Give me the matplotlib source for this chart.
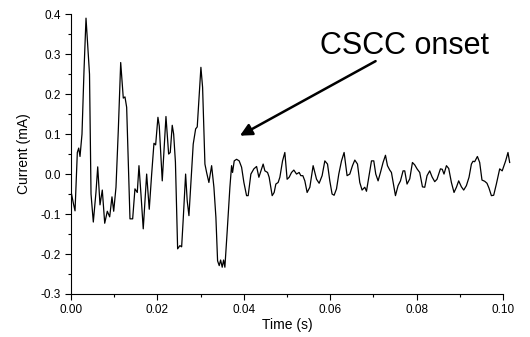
import matplotlib
matplotlib.use("Agg")
from matplotlib import pyplot as plt
from matplotlib.ticker import MultipleLocator, FormatStrFormatter

plt.rcParams['font.family'] = ['Liberation Sans', 'DejaVu Sans']
plt.rcParams['axes.unicode_minus'] = False

# current trace
time_s = [0.00012, 0.00058, 0.00093, 0.00146, 0.00178, 0.00208, 0.00254, 0.00301, 0.00347, 0.00382,
          0.00428, 0.00463, 0.00516, 0.00578, 0.00618, 0.00671, 0.00724, 0.00780, 0.00840, 0.00895,
          0.00948, 0.00988, 0.01041, 0.01094, 0.01150, 0.01210, 0.01249, 0.01288, 0.01365, 0.01427,
          0.01480, 0.01534, 0.01573, 0.01619, 0.01672, 0.01751, 0.01811, 0.01867, 0.01920, 0.01959,
          0.02012, 0.02043, 0.02112, 0.02198, 0.02260, 0.02297, 0.02343, 0.02376, 0.02417, 0.02468,
          0.02521, 0.02561, 0.02598, 0.02653, 0.02690, 0.02730, 0.02829, 0.02885, 0.02922, 0.02968,
          0.03007, 0.03046, 0.03100, 0.03139, 0.03192, 0.03255, 0.03308, 0.03354, 0.03393, 0.03431,
          0.03463, 0.03500, 0.03532, 0.03562, 0.03616, 0.03678, 0.03717, 0.03740, 0.03778, 0.03833,
          0.03893, 0.03949, 0.04002, 0.04064, 0.04101, 0.04164, 0.04233, 0.04296, 0.04349, 0.04411,
          0.04448, 0.04488, 0.04550, 0.04587, 0.04657, 0.04703, 0.04742, 0.04795, 0.04835, 0.04897,
          0.04950, 0.05003, 0.05050, 0.05105, 0.05158, 0.05221, 0.05281, 0.05320, 0.05367, 0.05413,
          0.05466, 0.05529, 0.05605, 0.05684, 0.05744, 0.05813, 0.05876, 0.05938, 0.05991, 0.06044,
          0.06091, 0.06146, 0.06199, 0.06262, 0.06322, 0.06391, 0.06454, 0.06516, 0.06570, 0.06632,
          0.06685, 0.06738, 0.06801, 0.06840, 0.06900, 0.06956, 0.07009, 0.07055, 0.07109, 0.07164,
          0.07224, 0.07280, 0.07326, 0.07379, 0.07418, 0.07472, 0.07511, 0.07571, 0.07627, 0.07687,
          0.07726, 0.07779, 0.07842, 0.07904, 0.07957, 0.08011, 0.08073, 0.08136, 0.08189, 0.08242,
          0.08304, 0.08358, 0.08420, 0.08473, 0.08552, 0.08594, 0.08635, 0.08691, 0.08744, 0.08806,
          0.08867, 0.08922, 0.08975, 0.09038, 0.09091, 0.09153, 0.09214, 0.09269, 0.09306, 0.09345,
          0.09408, 0.09461, 0.09514, 0.09577, 0.09630, 0.09676, 0.09732, 0.09785, 0.09847, 0.09924,
          0.09982, 0.10062, 0.10116, 0.10155]
current_mA = [-0.050, -0.075, -0.092, 0.054, 0.065, 0.044, 0.100, 0.260, 0.390, 0.330,
              0.250, -0.050, -0.120, -0.045, 0.018, -0.077, -0.040, -0.123, -0.093, -0.107,
              -0.057, -0.093, -0.033, 0.108, 0.279, 0.190, 0.193, 0.167, -0.112, -0.112,
              -0.037, -0.046, 0.021, -0.050, -0.137, 0.000, -0.088, 0.000, 0.077, 0.073,
              0.142, 0.120, -0.017, 0.144, 0.050, 0.054, 0.122, 0.100, 0.030, -0.187,
              -0.179, -0.182, -0.112, 0.000, -0.067, -0.104, 0.075, 0.113, 0.118, 0.200,
              0.267, 0.217, 0.025, 0.004, -0.021, 0.021, -0.033, -0.108, -0.217, -0.229,
              -0.215, -0.233, -0.215, -0.233, -0.142, -0.033, 0.021, 0.004, 0.033, 0.037,
              0.033, 0.017, -0.021, -0.054, -0.054, 0.000, 0.013, 0.019, -0.008, 0.013,
              0.025, 0.008, 0.004, -0.008, -0.054, -0.046, -0.025, -0.021, -0.008, 0.033,
              0.054, -0.013, -0.008, 0.004, 0.010, 0.000, 0.004, -0.004, -0.004, -0.017,
              -0.046, -0.033, 0.021, -0.013, -0.023, -0.004, 0.033, 0.025, -0.017, -0.050,
              -0.053, -0.037, 0.000, 0.033, 0.054, -0.004, 0.000, 0.021, 0.035, 0.025,
              -0.021, -0.040, -0.033, -0.043, -0.004, 0.033, 0.033, 0.000, -0.017, 0.004,
              0.029, 0.047, 0.021, 0.010, 0.004, -0.029, -0.054, -0.029, -0.017, 0.008,
              0.008, -0.025, -0.012, 0.029, 0.023, 0.013, 0.004, -0.032, -0.033, -0.004,
              0.008, -0.007, -0.019, -0.013, 0.013, 0.012, 0.000, 0.021, 0.014, -0.021,
              -0.046, -0.033, -0.017, -0.032, -0.040, -0.029, -0.008, 0.025, 0.032, 0.031,
              0.044, 0.029, -0.015, -0.018, -0.023, -0.035, -0.054, -0.053, -0.025, 0.013,
              0.008, 0.033, 0.054, 0.029]

fig = plt.figure(figsize=(5.3, 3.37), dpi=100)
ax = fig.add_axes([0.134, 0.1276, 0.815, 0.8304])

ax.plot(time_s, current_mA, color='black', linewidth=0.9, clip_on=False)

ax.set_xlim(0, 0.1)
ax.set_ylim(-0.3, 0.4)
ax.xaxis.set_major_locator(MultipleLocator(0.02))
ax.xaxis.set_minor_locator(MultipleLocator(0.01))
ax.yaxis.set_major_locator(MultipleLocator(0.1))
ax.yaxis.set_minor_locator(MultipleLocator(0.05))
ax.xaxis.set_major_formatter(FormatStrFormatter('%.2f'))
ax.yaxis.set_major_formatter(FormatStrFormatter('%.1f'))
ax.tick_params(which='both', direction='out', labelsize=8.5, width=0.8)
ax.tick_params(which='major', length=4)
ax.tick_params(which='minor', length=2.5)
ax.spines['top'].set_visible(False)
ax.spines['right'].set_visible(False)

ax.set_xlabel("Time (s)", fontsize=10, labelpad=1)
ax.set_ylabel("Current (mA)", fontsize=10, labelpad=7)

# annotation
ax.annotate("CSCC onset", xy=(0.0391, 0.096), xytext=(0.0576, 0.30),
            fontsize=22, ha='left', va='baseline',
            arrowprops=dict(arrowstyle='-|>', color='black', lw=1.8,
                            mutation_scale=18, shrinkA=0, shrinkB=0,
                            patchA=None, relpos=(0.33, 0.0)))

plt.savefig("out.png", dpi=100)
